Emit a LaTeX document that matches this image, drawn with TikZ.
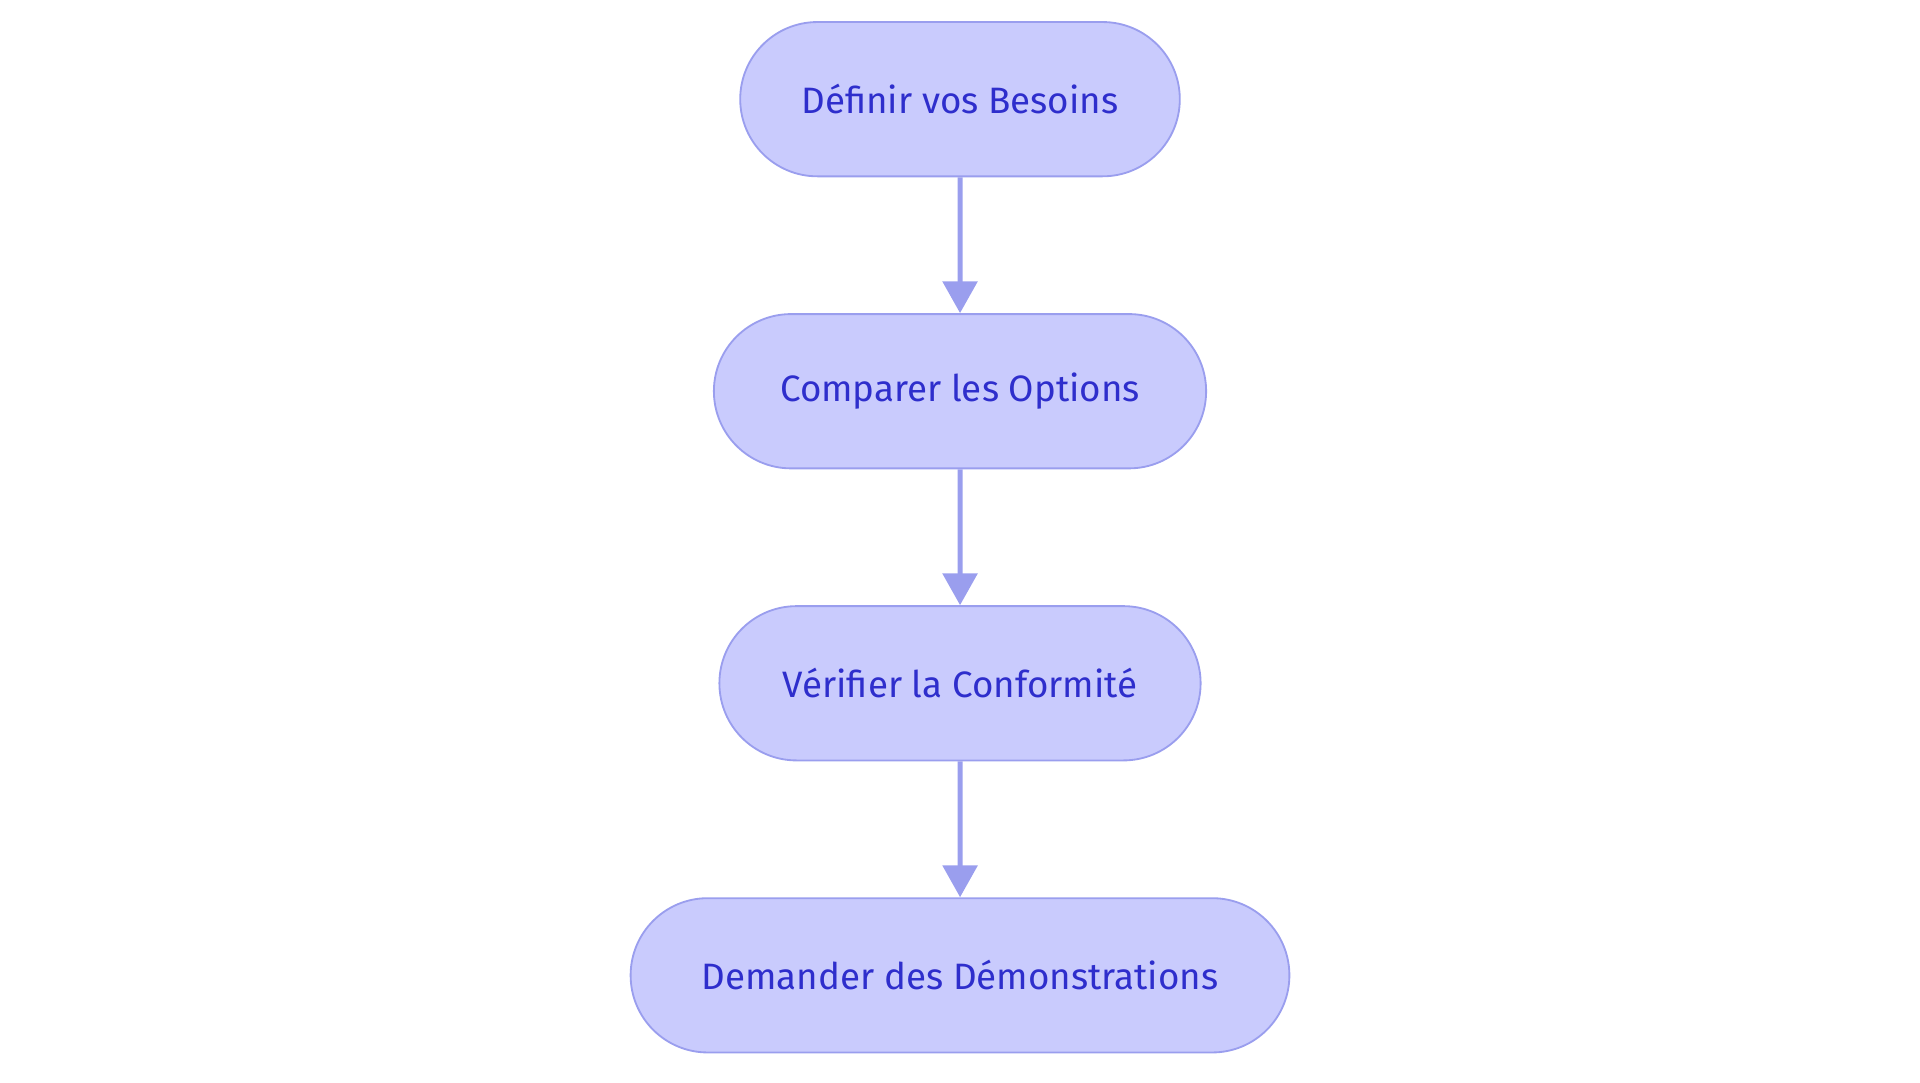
\documentclass[tikz,border=0pt]{standalone}
\usepackage{fontspec}
\setmainfont{Fira Sans}
\usetikzlibrary{%
	positioning,
	arrows.meta,
	shapes.misc
}
\definecolor{boxfill}{HTML}{C9CBFD}
\definecolor{boxline}{HTML}{9A9EEE}
\definecolor{boxtext}{HTML}{2E2ECC}

\begin{document}
\begin{tikzpicture}[
		x=1pt,y=-1pt,
		Step/.style={draw=boxline,line width=1.5pt,fill=boxfill,shape=rounded rectangle,text=boxtext,font=\fontsize{30}{34}\selectfont,minimum height=126pt,inner xsep=0pt},
		flow/.style={draw=boxline,line width=4pt,-{Triangle[length=26pt,width=28pt]}}
	]
	
	\useasboundingbox (0,0) rectangle (1568,884);
	
	\node(besoins) [Step, minimum width=359pt] at (784,81) {Définir vos Besoins};
	\node(options) [Step, minimum width=402pt, below=111pt of besoins] {Comparer les Options};
	\node(conformite) [Step, minimum width=393pt, below=111pt of options] {Vérifier la Conformité};
	\node(demos) [Step, minimum width=538pt, below=111pt of conformite] {Demander des Démonstrations};
	
	%arrows
	\draw[flow] (besoins) -- (options);
	\draw[flow] (options) -- (conformite);
	\draw[flow] (conformite) -- (demos);
	
\end{tikzpicture}
\end{document}
